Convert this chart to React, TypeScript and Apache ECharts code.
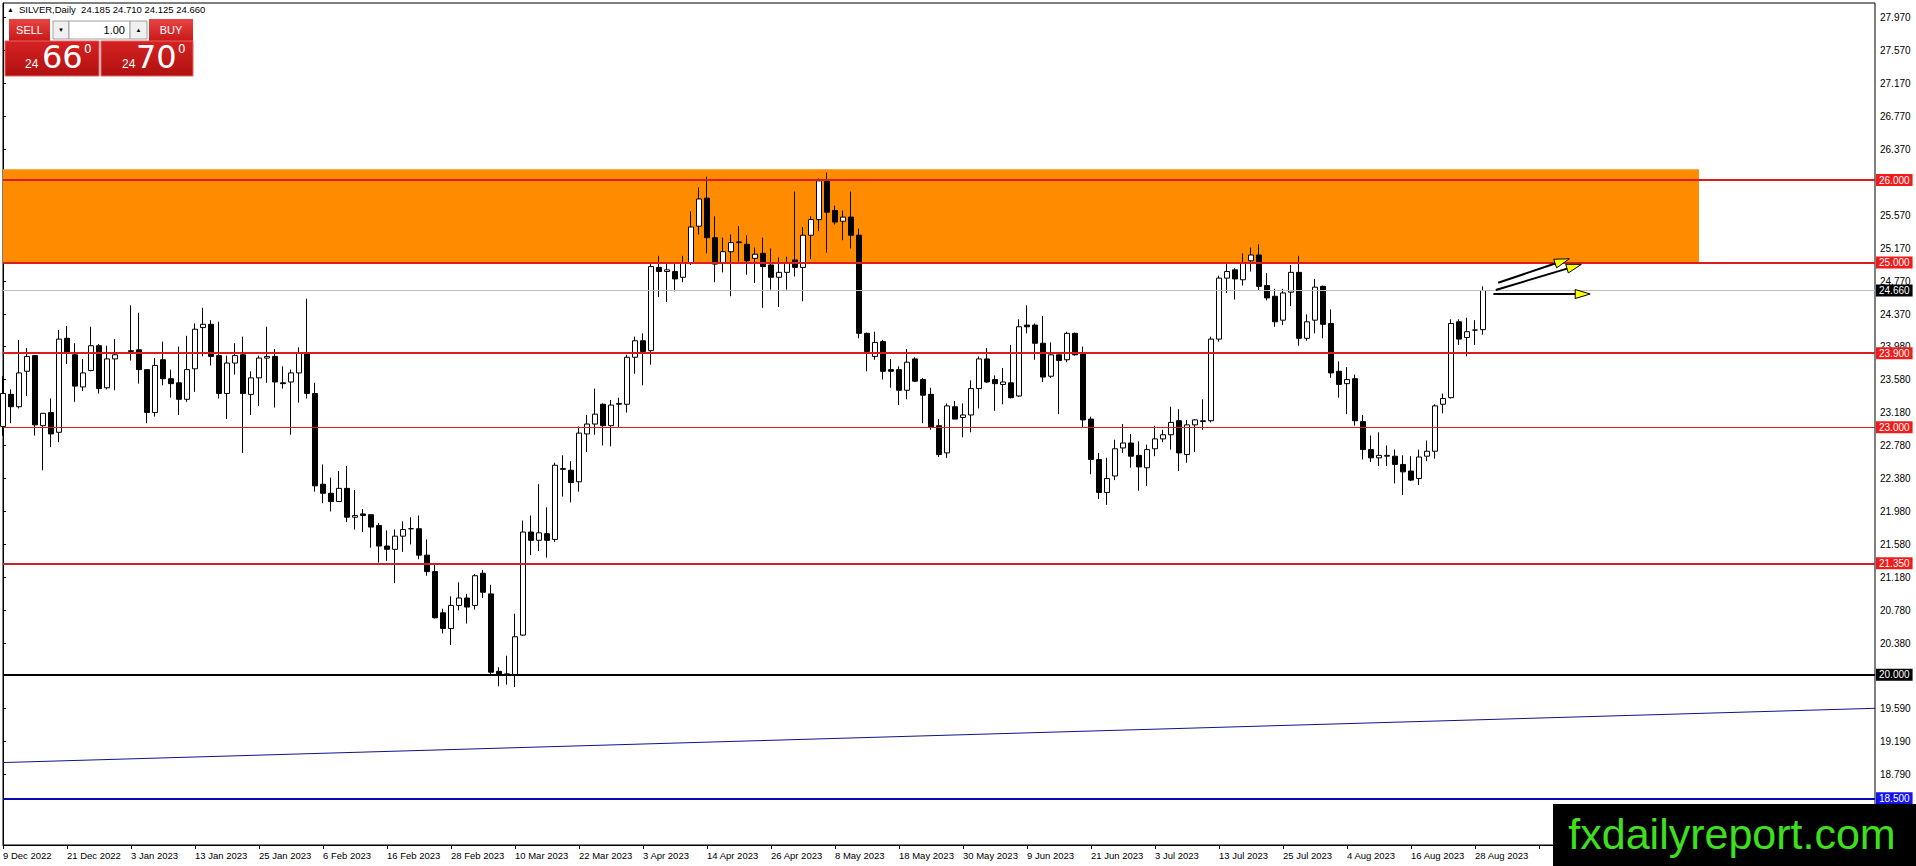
import React, { useEffect, useRef } from "react";
import * as echarts from "echarts";

const SANS = "'Liberation Sans', Arial, sans-serif";

// ---- trading days (category axis) ----
const dec2022Days = [9, 12, 13, 14, 15, 16, 19, 20, 21, 22, 23, 27, 28, 29, 30];
const jan2023Days = [2, 3, 4, 5, 6, 9, 10, 11, 12, 13, 16, 17, 18, 19, 20, 23, 24, 25, 26, 27, 30, 31];
const feb2023Days = [1, 2, 3, 6, 7, 8, 9, 10, 13, 14, 15, 16, 17, 20, 21, 22, 23, 24, 27, 28];
const mar2023Days = [1, 2, 3, 6, 7, 8, 9, 10, 13, 14, 15, 16, 17, 20, 21, 22, 23, 24, 27, 28, 29, 30, 31];
const apr2023Days = [3, 4, 5, 6, 10, 11, 12, 13, 14, 17, 18, 19, 20, 21, 24, 25, 26, 27, 28];
const may2023Days = [1, 2, 3, 4, 5, 8, 9, 10, 11, 12, 15, 16, 17, 18, 19, 22, 23, 24, 25, 26, 29, 30, 31];
const jun2023Days = [1, 2, 5, 6, 7, 8, 9, 12, 13, 14, 15, 16, 19, 20, 21, 22, 23, 26, 27, 28, 29, 30];
const jul2023Days = [3, 4, 5, 6, 7, 10, 11, 12, 13, 14, 17, 18, 19, 20, 21, 24, 25, 26, 27, 28, 31];
const aug2023Days = [1, 2, 3, 4, 7, 8, 9, 10, 11, 14, 15, 16, 17, 18, 21, 22, 23, 24, 25, 28, 29];
const futureSlots = 49;

// ---- daily OHLC [open, high, low, close] ----
const ohlcDec2022 = [
  [23.01, 23.62, 22.9, 23.41], [23.4, 23.46, 23.05, 23.25], [23.25, 24.06, 23.23, 23.66], [23.68, 23.96, 23.38, 23.86],
  [23.87, 23.87, 22.9, 23.03], [23.02, 23.17, 22.48, 23.17], [23.18, 23.35, 22.76, 22.92], [22.94, 24.18, 22.82, 24.07],
  [24.08, 24.23, 23.77, 23.91], [23.88, 24.02, 23.31, 23.5], [23.49, 23.83, 23.44, 23.66], [23.69, 24.22, 23.68, 23.99],
  [23.99, 24.01, 23.41, 23.47], [23.48, 23.99, 23.46, 23.83], [23.83, 24.07, 23.45, 23.88],
];
const ohlcJan2023 = [
  null, [23.92, 24.48, 23.81, 23.93], [23.94, 24.39, 23.53, 23.7], [23.7, 23.7, 23.05, 23.18],
  [23.18, 23.84, 23.13, 23.75], [23.82, 24.04, 23.51, 23.59], [23.59, 23.7, 23.36, 23.53], [23.54, 23.98, 23.15, 23.34],
  [23.34, 24.11, 23.31, 23.7], [23.71, 24.26, 23.43, 24.19], [24.21, 24.45, 23.86, 24.25], [24.25, 24.3, 23.75, 23.86],
  [23.87, 24.28, 23.35, 23.41], [23.41, 23.87, 23.1, 23.78], [23.78, 24.02, 23.64, 23.87], [23.88, 24.1, 22.69, 23.41],
  [23.4, 23.68, 23.15, 23.6], [23.6, 23.87, 23.26, 23.84], [23.84, 24.22, 23.54, 23.86], [23.86, 23.95, 23.24, 23.55],
  [23.54, 23.74, 23.47, 23.53], [23.55, 23.7, 22.91, 23.66],
];
const ohlcFeb2023 = [
  [23.66, 23.97, 23.3, 23.9], [23.89, 24.56, 23.35, 23.41], [23.41, 23.54, 22.22, 22.29], [22.31, 22.55, 22.08, 22.2],
  [22.2, 22.39, 21.98, 22.1], [22.1, 22.47, 22.1, 22.26], [22.26, 22.53, 21.85, 21.91], [21.91, 22.24, 21.76, 21.93],
  [21.95, 22.01, 21.73, 21.93], [21.94, 21.94, 21.54, 21.79], [21.81, 21.84, 21.36, 21.56], [21.56, 21.75, 21.38, 21.52],
  [21.52, 21.76, 21.11, 21.68], [21.68, 21.86, 21.49, 21.76], [21.77, 21.91, 21.58, 21.77], [21.77, 21.93, 21.4, 21.45],
  [21.45, 21.64, 21.2, 21.25], [21.25, 21.34, 20.68, 20.69], [20.75, 20.8, 20.5, 20.56], [20.56, 20.95, 20.36, 20.84],
];
const ohlcMar2023 = [
  [20.84, 21.12, 20.78, 20.93], [20.93, 20.98, 20.62, 20.82], [20.84, 21.22, 20.79, 21.2], [21.23, 21.27, 20.93, 21.0],
  [20.98, 21.09, 19.99, 20.03], [20.04, 20.09, 19.86, 19.99], [20.0, 20.23, 19.88, 20.01], [20.0, 20.74, 19.85, 20.46],
  [20.48, 21.87, 20.47, 21.73], [21.73, 21.93, 21.45, 21.63], [21.63, 22.31, 21.5, 21.72], [21.71, 22.03, 21.42, 21.63],
  [21.64, 22.57, 21.61, 22.54], [22.49, 22.66, 22.16, 22.5], [22.48, 22.59, 22.09, 22.33], [22.34, 23.01, 22.22, 22.93],
  [22.92, 23.15, 22.7, 23.04], [23.04, 23.47, 22.91, 23.16], [23.28, 23.29, 22.78, 23.02], [23.02, 23.33, 22.77, 23.27],
  [23.28, 23.36, 23.0, 23.29], [23.28, 23.88, 23.18, 23.85], [23.85, 24.1, 23.65, 24.05],
];
const ohlcApr2023 = [
  [24.05, 24.14, 23.51, 23.92], [23.93, 24.98, 23.76, 24.95], [24.94, 25.08, 24.58, 24.89], [24.89, 24.99, 24.52, 24.91],
  [24.89, 24.99, 24.65, 24.8], [24.82, 25.08, 24.76, 24.99], [24.99, 25.62, 24.97, 25.43], [25.44, 25.91, 25.34, 25.77],
  [25.78, 26.04, 25.11, 25.3], [25.3, 25.56, 24.76, 24.98], [25.0, 25.3, 24.88, 25.13], [25.13, 25.34, 24.59, 25.24],
  [25.24, 25.44, 25.01, 25.25], [25.22, 25.33, 24.85, 25.02], [25.05, 25.18, 24.75, 25.1], [25.11, 25.3, 24.45, 24.95],
  [24.97, 25.17, 24.67, 24.82], [24.82, 25.06, 24.46, 24.88], [24.88, 25.07, 24.67, 25.0],
];
const ohlcMay2023 = [
  [25.03, 25.86, 24.83, 24.94], [24.94, 25.43, 24.53, 25.33], [25.33, 25.56, 25.04, 25.52], [25.52, 26.02, 25.38, 25.99],
  [25.99, 26.09, 25.12, 25.61], [25.63, 25.69, 25.46, 25.49], [25.5, 25.63, 25.27, 25.55], [25.55, 25.86, 25.17, 25.33],
  [25.33, 25.41, 24.08, 24.14], [24.14, 24.15, 23.68, 23.92], [23.86, 24.16, 23.82, 24.03], [24.04, 24.06, 23.58, 23.68],
  [23.7, 23.83, 23.48, 23.68], [23.7, 23.74, 23.27, 23.45], [23.45, 23.95, 23.34, 23.79], [23.83, 23.85, 23.55, 23.56],
  [23.58, 23.6, 23.05, 23.39], [23.4, 23.48, 22.97, 23.0], [23.02, 23.1, 22.64, 22.67], [22.69, 23.29, 22.63, 23.26],
  [23.25, 23.32, 23.1, 23.1], [23.12, 23.29, 22.88, 23.15], [23.15, 23.57, 22.94, 23.47],
];
const ohlcJun2023 = [
  [23.47, 23.86, 23.23, 23.83], [23.83, 23.96, 23.54, 23.55], [23.58, 23.63, 23.2, 23.53], [23.52, 23.72, 23.28, 23.55],
  [23.54, 24.0, 23.35, 23.36], [23.38, 24.31, 23.37, 24.22], [24.24, 24.48, 24.14, 24.22], [24.24, 24.26, 23.82, 24.02],
  [24.02, 24.35, 23.55, 23.61], [23.62, 24.03, 23.6, 23.88], [23.88, 23.88, 23.16, 23.81], [23.82, 24.16, 23.79, 24.14],
  [24.14, 24.15, 23.87, 23.88], [23.9, 23.98, 23.0, 23.09], [23.1, 23.13, 22.43, 22.61], [22.61, 22.69, 22.13, 22.21],
  [22.21, 22.63, 22.06, 22.38], [22.41, 22.85, 22.36, 22.74], [22.75, 23.04, 22.69, 22.81], [22.81, 22.92, 22.51, 22.65],
  [22.66, 22.83, 22.23, 22.52], [22.51, 22.79, 22.29, 22.73],
];
const ohlcJul2023 = [
  [22.74, 23.02, 22.65, 22.86], [22.86, 22.97, 22.82, 22.91], [22.91, 23.25, 22.73, 23.06], [23.08, 23.22, 22.47, 22.69],
  [22.67, 23.09, 22.57, 23.03], [23.03, 23.1, 22.7, 23.09], [23.07, 23.34, 22.97, 23.08], [23.08, 24.1, 23.06, 24.07],
  [24.07, 24.84, 24.04, 24.81], [24.81, 24.98, 24.63, 24.89], [24.91, 24.93, 24.55, 24.8], [24.79, 25.11, 24.72, 25.0],
  [25.02, 25.18, 24.89, 25.09], [25.09, 25.22, 24.66, 24.71], [24.72, 24.87, 24.54, 24.57], [24.59, 24.68, 24.22, 24.28],
  [24.3, 24.68, 24.24, 24.63], [24.64, 24.97, 24.47, 24.88], [24.88, 25.08, 23.99, 24.08], [24.08, 24.37, 24.05, 24.28],
  [24.3, 24.8, 24.14, 24.7],
];
const ohlcAug2023 = [
  [24.71, 24.72, 24.08, 24.25], [24.26, 24.43, 23.6, 23.66], [23.68, 23.8, 23.36, 23.52], [23.53, 23.73, 23.16, 23.58],
  [23.59, 23.64, 23.02, 23.08], [23.07, 23.15, 22.61, 22.73], [22.73, 22.9, 22.58, 22.63], [22.63, 22.94, 22.53, 22.66],
  [22.65, 22.78, 22.53, 22.66], [22.65, 22.73, 22.32, 22.55], [22.55, 22.66, 22.18, 22.46], [22.47, 22.65, 22.35, 22.36],
  [22.38, 22.73, 22.3, 22.64], [22.65, 22.84, 22.59, 22.71], [22.71, 23.28, 22.62, 23.26], [23.28, 23.41, 23.17, 23.35],
  [23.36, 24.31, 23.35, 24.26], [24.28, 24.31, 24.0, 24.07], [24.09, 24.33, 23.86, 24.16], [24.18, 24.3, 24.0, 24.18],
  [24.185, 24.71, 24.125, 24.66],
];

// ---- levels & annotations (prices / bar indices) ----
const resistanceLevels = [26.0, 25.0, 23.9];
const supportLevels = [23.0, 21.35];
const roundLevel = 20.0;
const floorLevel = 18.5;
const zoneTop = 26.13;
const zoneBottom = 25.0;
const zoneEndBar = 212;
const trendStart = [0, 18.934];
const trendEnd = [234, 19.592];
const arrowsData = [
  [186.9, 24.754, 195.8, 25.045],
  [186.6, 24.666, 197.3, 24.977],
  [186.3, 24.617, 198.4, 24.617],
];
const yTickLabels = [
  27.97, 27.57, 27.17, 26.77, 26.37, 25.57, 25.17, 24.77, 24.37, 23.98, 23.58, 23.18,
  22.78, 22.38, 21.98, 21.58, 21.18, 20.78, 20.38, 19.59, 19.19, 18.79,
];
const yMin = 17.934;
const yMax = 28.147;
const sellQuote = ["24", "66", "0"];
const buyQuote = ["24", "70", "0"];
const lotSize = "1.00";

const monthTable: [string, number, number[], (number[] | null)[]][] = [
  ["Dec", 2022, dec2022Days, ohlcDec2022],
  ["Jan", 2023, jan2023Days, ohlcJan2023],
  ["Feb", 2023, feb2023Days, ohlcFeb2023],
  ["Mar", 2023, mar2023Days, ohlcMar2023],
  ["Apr", 2023, apr2023Days, ohlcApr2023],
  ["May", 2023, may2023Days, ohlcMay2023],
  ["Jun", 2023, jun2023Days, ohlcJun2023],
  ["Jul", 2023, jul2023Days, ohlcJul2023],
  ["Aug", 2023, aug2023Days, ohlcAug2023],
];

function redGrad(top: string, bottom: string) {
  return new echarts.graphic.LinearGradient(0, 0, 0, 1, [
    { offset: 0, color: top },
    { offset: 1, color: bottom },
  ]);
}

export default function App() {
  const ref = useRef<HTMLDivElement>(null);

  useEffect(() => {
    if (!ref.current) return;
    const chart = echarts.init(ref.current, null, { renderer: "svg" });

    const categories: string[] = [];
    const candles: any[] = [];
    monthTable.forEach(([mon, yr, days, rows]) => {
      days.forEach((d, k) => {
        categories.push(`${d} ${mon} ${yr}`);
        const r = rows[k];
        candles.push(r ? [r[0], r[3], r[2], r[1]] : "-");
      });
    });
    const realCount = categories.length;
    for (let k = 0; k < futureSlots; k++) categories.push(`+${k + 1}`);
    const lastIndex = categories.length - 1;

    const last = ohlcAug2023[ohlcAug2023.length - 1] as number[];
    const bid = last[3];

    const tag = (bg: string) => ({
      show: true,
      position: "end",
      color: "#ffffff",
      backgroundColor: bg,
      padding: [1, 3, 0, 3],
      fontSize: 10,
      lineHeight: 11,
      fontFamily: SANS,
      distance: 1,
      formatter: (p: any) => Number(p.value).toFixed(3),
    });
    const hLine = (v: number, color: string, width: number, bg: string) => ({
      yAxis: v,
      lineStyle: { color, width, type: "solid" },
      label: tag(bg),
    });

    const markLines: any[] = [
      ...resistanceLevels.map((v) => hLine(v, "#dc1c1c", 2, "#f01c1c")),
      hLine(supportLevels[0], "#dc1c1c", 1, "#f01c1c"),
      hLine(supportLevels[1], "#c4262a", 2, "#f01c1c"),
      hLine(bid, "#bdbdbd", 1, "#000000"),
      hLine(roundLevel, "#000000", 2, "#000000"),
      hLine(floorLevel, "#0a0ab4", 2, "#1414f0"),
      [
        { coord: trendStart, lineStyle: { color: "#12128c", width: 1, type: "solid" }, label: { show: false } },
        { coord: trendEnd },
      ],
    ];

    const option: any = {
      animation: false,
      backgroundColor: "#ffffff",
      grid: {
        left: 3,
        right: 41,
        top: 3,
        bottom: 21,
        show: true,
        borderColor: "#000000",
        borderWidth: 1,
        backgroundColor: "transparent",
      },
      xAxis: [
        {
          type: "category",
          data: categories,
          boundaryGap: false,
          axisLine: { show: true, lineStyle: { color: "#000000", width: 1 } },
          axisTick: { show: true, interval: 7, length: 4, lineStyle: { color: "#000000" } },
          axisLabel: {
            interval: 7,
            align: "left",
            margin: 5,
            fontSize: 9.5,
            fontFamily: SANS,
            color: "#000000",
            formatter: (v: string, i: number) => (i < realCount ? v : ""),
          },
          splitLine: { show: false },
        },
        {
          type: "value",
          min: 0,
          max: lastIndex,
          show: false,
        },
      ],
      yAxis: {
        type: "value",
        position: "right",
        min: yMin,
        max: yMax,
        scale: true,
        axisLine: { show: true, lineStyle: { color: "#000000", width: 1 } },
        axisTick: { show: true, length: 3, customValues: yTickLabels, lineStyle: { color: "#000000" } },
        axisLabel: {
          customValues: yTickLabels,
          margin: 5,
          fontSize: 10,
          fontFamily: SANS,
          color: "#000000",
          formatter: (v: number) => v.toFixed(3),
        },
        splitLine: { show: false },
      },
      series: [
        {
          type: "candlestick",
          data: candles,
          barWidth: 5,
          clip: true,
          silent: true,
          itemStyle: {
            color: "#ffffff",
            color0: "#000000",
            borderColor: "#000000",
            borderColor0: "#000000",
            borderWidth: 1,
          },
          markArea: {
            silent: true,
            itemStyle: { color: "#ff8c00", opacity: 1 },
            data: [[{ xAxis: 0, yAxis: zoneTop }, { xAxis: zoneEndBar, yAxis: zoneBottom }]],
          },
          markLine: {
            silent: true,
            symbol: ["none", "none"],
            animation: false,
            data: markLines,
          },
        },
        {
          type: "custom",
          xAxisIndex: 1,
          yAxisIndex: 0,
          silent: true,
          z: 10,
          data: arrowsData,
          encode: { x: [0, 2], y: [1, 3] },
          renderItem: (_params: any, api: any) => {
            const a = api.coord([api.value(0), api.value(1)]);
            const b = api.coord([api.value(2), api.value(3)]);
            const dx = b[0] - a[0];
            const dy = b[1] - a[1];
            const len = Math.hypot(dx, dy) || 1;
            const ux = dx / len;
            const uy = dy / len;
            const hl = 15;
            const hw = 4.5;
            const bx = b[0] - ux * hl;
            const by = b[1] - uy * hl;
            const px = -uy;
            const py = ux;
            return {
              type: "group",
              children: [
                {
                  type: "line",
                  shape: { x1: a[0], y1: a[1], x2: bx, y2: by },
                  style: { stroke: "#000000", lineWidth: 2 },
                },
                {
                  type: "polygon",
                  shape: {
                    points: [
                      [b[0], b[1]],
                      [bx + px * hw, by + py * hw],
                      [bx - px * hw, by - py * hw],
                    ],
                  },
                  style: { fill: "#ffff00", stroke: "#000000", lineWidth: 1 },
                },
              ],
            };
          },
        },
      ],
      graphic: [
        // header
        { type: "text", x: 7, y: 9, z: 100, style: { text: "▲", fontSize: 7, fill: "#000", verticalAlign: "middle" } },
        {
          type: "text",
          x: 19,
          y: 9,
          z: 100,
          style: {
            text: `SILVER,Daily  ${last.map((v) => v.toFixed(3)).join(" ")}`,
            fontSize: 9.5,
            fontFamily: SANS,
            fill: "#000",
            verticalAlign: "middle",
          },
        },
        // one-click trading panel
        { type: "rect", z: 100, shape: { x: 9, y: 19, width: 41, height: 22 }, style: { fill: redGrad("#e84444", "#c81818") } },
        { type: "text", z: 101, x: 29.5, y: 30, style: { text: "SELL", fontSize: 11, fontFamily: SANS, fill: "#fff", align: "center", verticalAlign: "middle" } },
        { type: "rect", z: 100, shape: { x: 53, y: 21, width: 16, height: 18 }, style: { fill: "#f0f0f0", stroke: "#a0a0a0", lineWidth: 1 } },
        { type: "text", z: 101, x: 61, y: 30, style: { text: "▼", fontSize: 6, fill: "#000", align: "center", verticalAlign: "middle" } },
        { type: "rect", z: 100, shape: { x: 69, y: 21, width: 61, height: 18 }, style: { fill: "#ffffff", stroke: "#a0a0a0", lineWidth: 1 } },
        { type: "text", z: 101, x: 125, y: 30, style: { text: lotSize, fontSize: 11, fontFamily: SANS, fill: "#000", align: "right", verticalAlign: "middle" } },
        { type: "rect", z: 100, shape: { x: 130, y: 21, width: 17, height: 18 }, style: { fill: "#f0f0f0", stroke: "#a0a0a0", lineWidth: 1 } },
        { type: "text", z: 101, x: 138.5, y: 30, style: { text: "▲", fontSize: 6, fill: "#000", align: "center", verticalAlign: "middle" } },
        { type: "rect", z: 100, shape: { x: 149, y: 19, width: 44, height: 22 }, style: { fill: redGrad("#e84444", "#c81818") } },
        { type: "text", z: 101, x: 171, y: 30, style: { text: "BUY", fontSize: 11, fontFamily: SANS, fill: "#fff", align: "center", verticalAlign: "middle" } },
        { type: "rect", z: 100, shape: { x: 5, y: 41, width: 94, height: 35 }, style: { fill: redGrad("#d62222", "#b01010"), stroke: "#e86060", lineWidth: 1 } },
        { type: "rect", z: 100, shape: { x: 101, y: 41, width: 92, height: 35 }, style: { fill: redGrad("#d62222", "#b01010"), stroke: "#e86060", lineWidth: 1 } },
        { type: "text", z: 101, x: 25, y: 70, style: { text: sellQuote[0], fontSize: 12, fontFamily: SANS, fill: "#fff", verticalAlign: "bottom" } },
        { type: "text", z: 101, x: 42, y: 73, style: { text: sellQuote[1], fontSize: 32, fontFamily: "'DejaVu Sans', sans-serif", fill: "#fff", verticalAlign: "bottom" } },
        { type: "text", z: 101, x: 84, y: 43, style: { text: sellQuote[2], fontSize: 12, fontFamily: "'DejaVu Sans', sans-serif", fill: "#fff", verticalAlign: "top" } },
        { type: "text", z: 101, x: 122, y: 70, style: { text: buyQuote[0], fontSize: 12, fontFamily: SANS, fill: "#fff", verticalAlign: "bottom" } },
        { type: "text", z: 101, x: 136, y: 73, style: { text: buyQuote[1], fontSize: 32, fontFamily: "'DejaVu Sans', sans-serif", fill: "#fff", verticalAlign: "bottom" } },
        { type: "text", z: 101, x: 178, y: 43, style: { text: buyQuote[2], fontSize: 12, fontFamily: "'DejaVu Sans', sans-serif", fill: "#fff", verticalAlign: "top" } },
        // watermark
        { type: "rect", z: 200, shape: { x: 1553, y: 804, width: 363, height: 62 }, style: { fill: "#000000" } },
        {
          type: "text",
          z: 201,
          x: 1732,
          y: 834,
          style: {
            text: "fxdailyreport.com",
            fontSize: 43,
            fontFamily: SANS,
            fill: "#3ee01e",
            align: "center",
            verticalAlign: "middle",
          },
        },
      ],
    };

    chart.setOption(option);
    return () => chart.dispose();
  }, []);

  return (
    <div
      ref={ref}
      style={{ position: "fixed", left: 0, top: 0, width: 1916, height: 866, background: "#fff" }}
    />
  );
}
